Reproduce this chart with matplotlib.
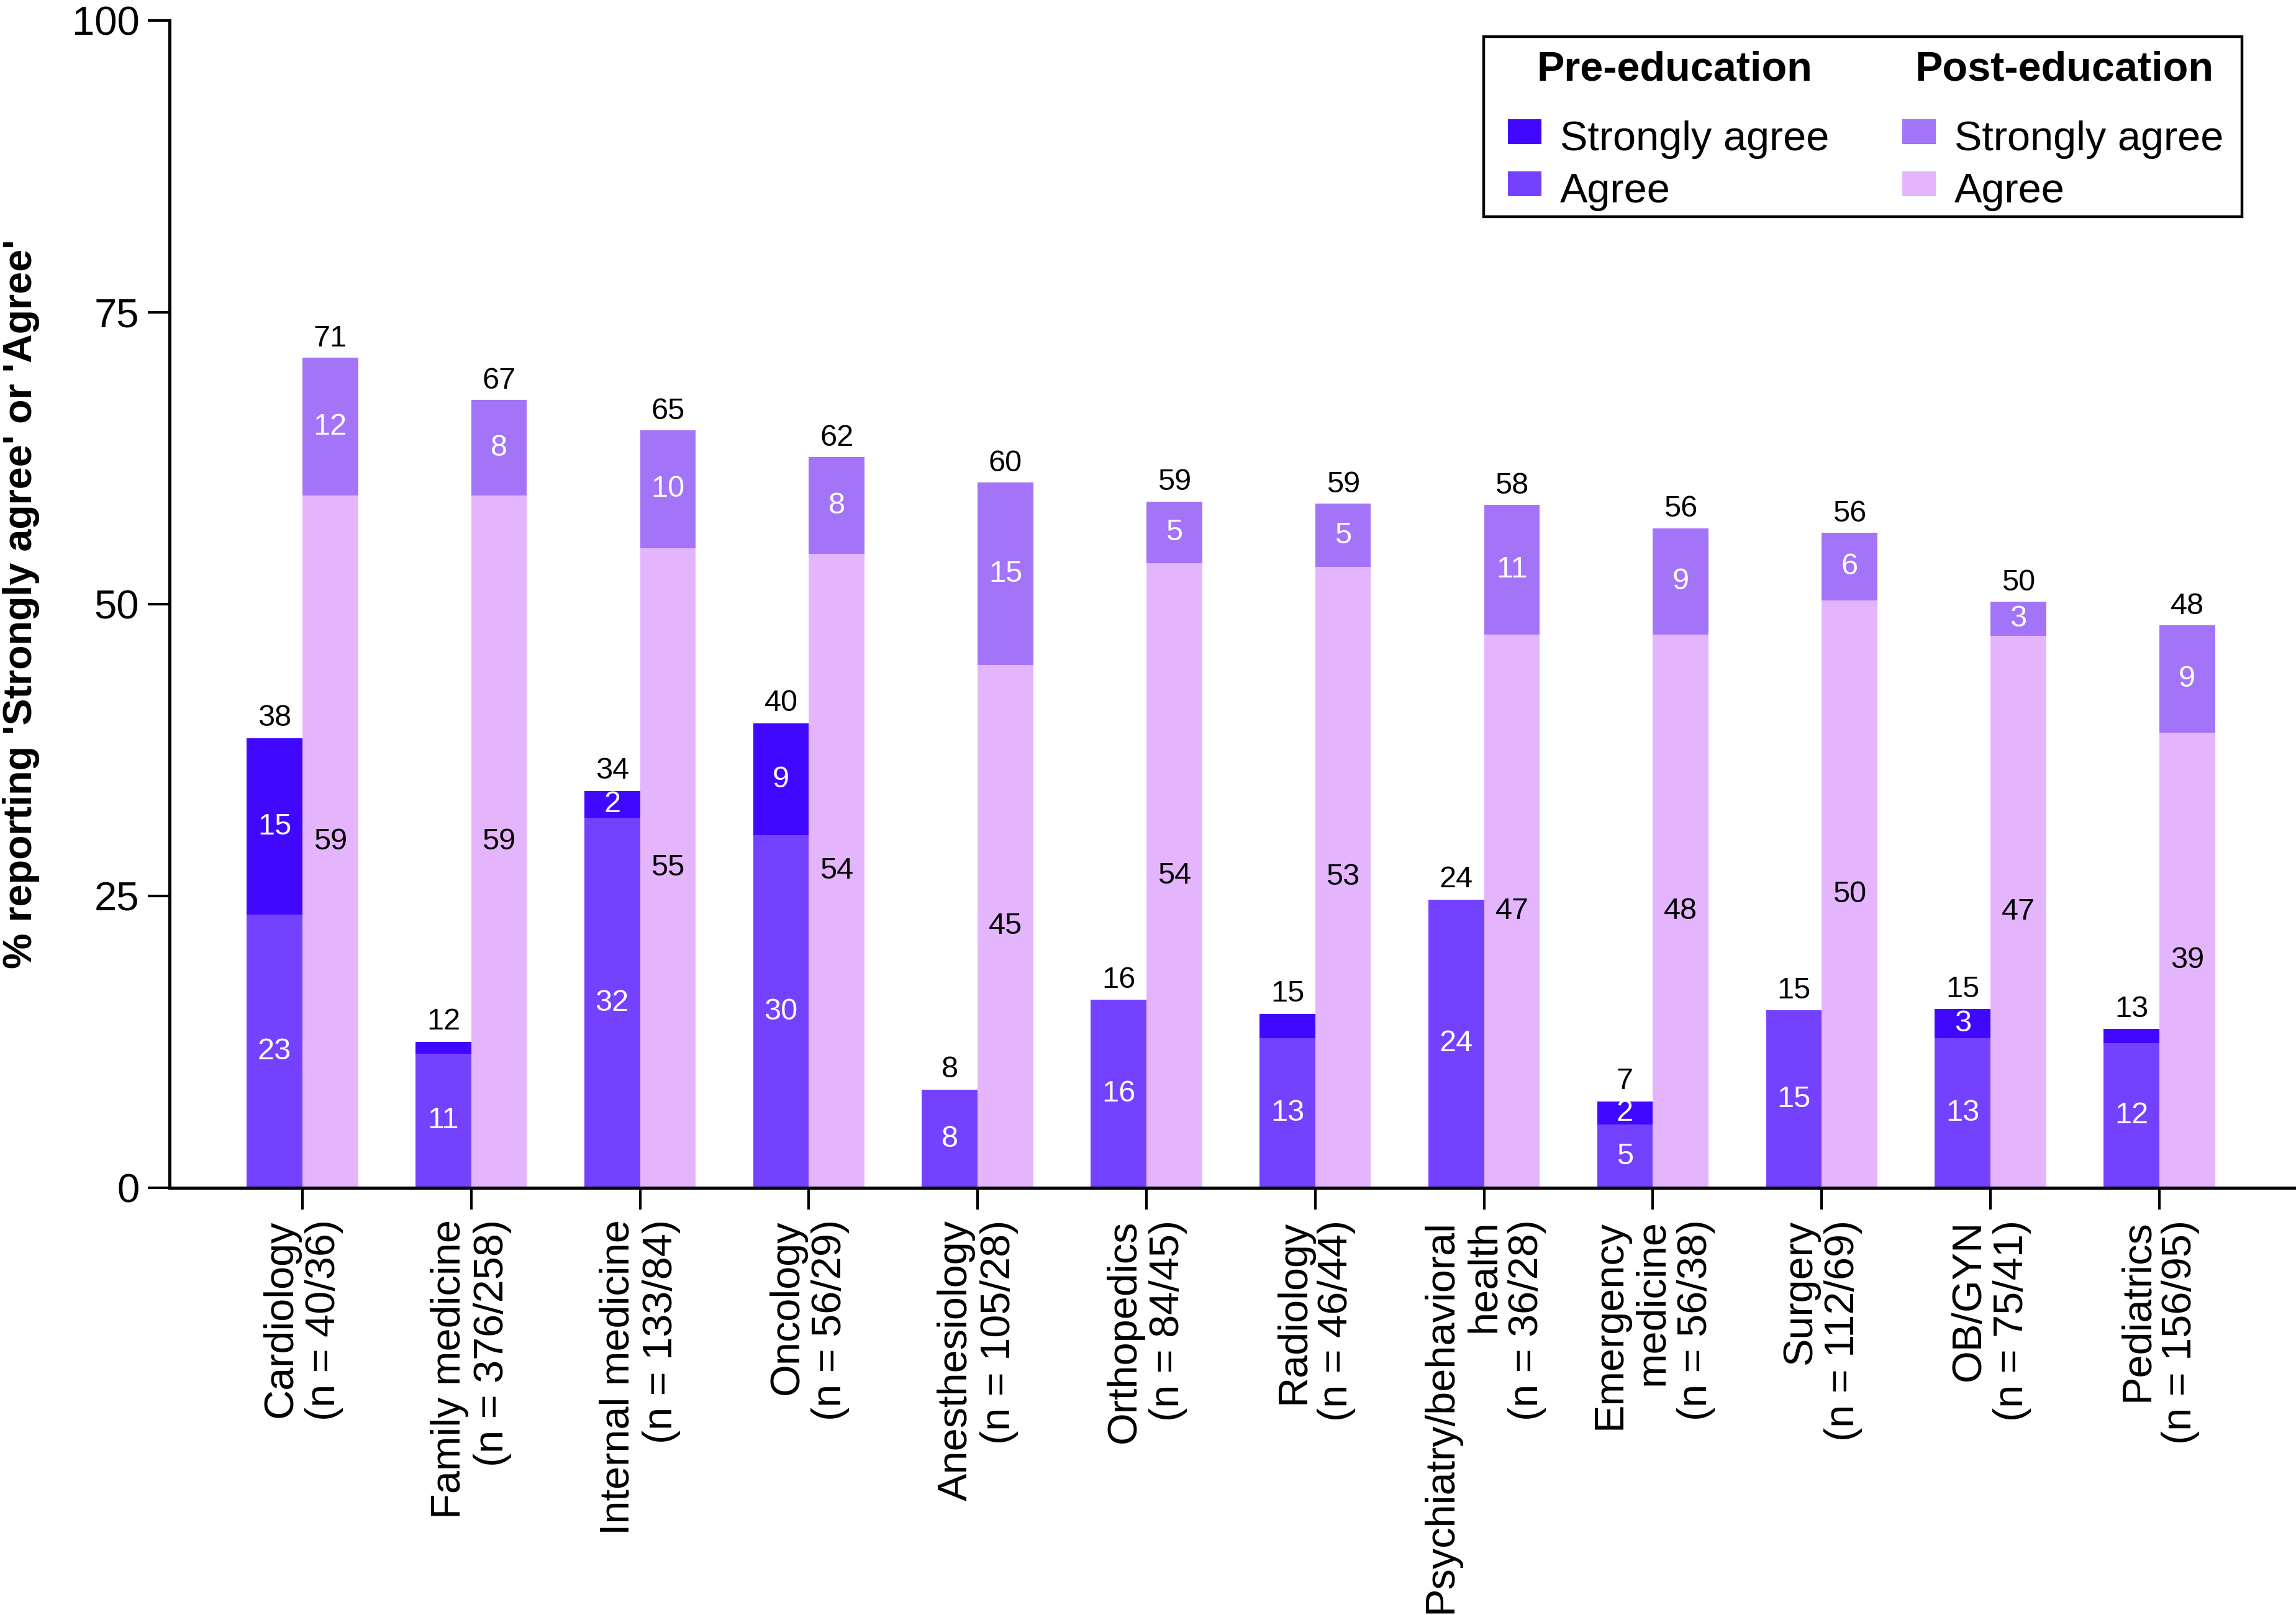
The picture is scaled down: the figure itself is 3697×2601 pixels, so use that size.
import matplotlib
matplotlib.use("Agg")
import matplotlib.pyplot as plt
from matplotlib.patches import Rectangle
import numpy as np

plt.rcParams['font.family'] = ['Liberation Sans', 'DejaVu Sans']

categories = [
    "Cardiology\n(n = 40/36)",
    "Family medicine\n(n = 376/258)",
    "Internal medicine\n(n = 133/84)",
    "Oncology\n(n = 56/29)",
    "Anesthesiology\n(n = 105/28)",
    "Orthopedics\n(n = 84/45)",
    "Radiology\n(n = 46/44)",
    "Psychiatry/behavioral\nhealth\n(n = 36/28)",
    "Emergency\nmedicine\n(n = 56/38)",
    "Surgery\n(n = 112/69)",
    "OB/GYN\n(n = 75/41)",
    "Pediatrics\n(n = 156/95)",
]

# segment heights (%)
pre_agree = [23.4, 11.5, 31.7, 30.2, 8.4, 16.1, 12.8, 24.7, 5.4, 15.2, 12.8, 12.4]
pre_strong = [15.1, 1.0, 2.3, 9.6, 0.0, 0.0, 2.1, 0.0, 2.0, 0.0, 2.5, 1.2]
post_agree = [59.3, 59.3, 54.8, 54.3, 44.8, 53.5, 53.2, 47.4, 47.4, 50.3, 47.3, 39.0]
post_strong = [11.8, 8.2, 10.1, 8.3, 15.6, 5.3, 5.4, 11.1, 9.1, 5.8, 2.9, 9.2]

# printed labels
pre_agree_lbl = ["23", "11", "32", "30", "8", "16", "13", "24", "5", "15", "13", "12"]
pre_strong_lbl = ["15", "", "2", "9", "", "", "", "", "2", "", "3", ""]
post_agree_lbl = ["59", "59", "55", "54", "45", "54", "53", "47", "48", "50", "47", "39"]
post_strong_lbl = ["12", "8", "10", "8", "15", "5", "5", "11", "9", "6", "3", "9"]
pre_total_lbl = ["38", "12", "34", "40", "8", "16", "15", "24", "7", "15", "15", "13"]
post_total_lbl = ["71", "67", "65", "62", "60", "59", "59", "58", "56", "56", "50", "48"]

c_pre_sa = '#4008FF'
c_pre_a = '#7441FF'
c_post_sa = '#A374F8'
c_post_a = '#E4B5FD'

W, H = 3697, 2601
fig = plt.figure(figsize=(W / 100, H / 100), dpi=100)
ax = fig.add_axes([273 / W, 1 - 1913 / H, 1 - 273 / W, (1913 - 33) / H])

x = np.arange(len(categories))
bw = 0.33

pa = np.array(pre_agree)
ps = np.array(pre_strong)
qa = np.array(post_agree)
qs = np.array(post_strong)

ax.bar(x - bw, pa, width=bw, align='edge', color=c_pre_a, edgecolor='none')
ax.bar(x - bw, ps, width=bw, bottom=pa, align='edge', color=c_pre_sa, edgecolor='none')
ax.bar(x, qa, width=bw, align='edge', color=c_post_a, edgecolor='none')
ax.bar(x, qs, width=bw, bottom=qa, align='edge', color=c_post_sa, edgecolor='none')

fs_bar = 35
for i in range(len(x)):
    xc_pre = x[i] - bw / 2
    xc_post = x[i] + bw / 2
    if pre_agree_lbl[i]:
        ax.text(xc_pre, pa[i] / 2, pre_agree_lbl[i], ha='center', va='center',
                color='white', fontsize=fs_bar)
    if pre_strong_lbl[i]:
        ax.text(xc_pre, pa[i] + ps[i] / 2, pre_strong_lbl[i], ha='center', va='center',
                color='white', fontsize=fs_bar)
    ax.text(xc_post, qa[i] / 2, post_agree_lbl[i], ha='center', va='center',
            color='black', fontsize=fs_bar)
    ax.text(xc_post, qa[i] + qs[i] / 2, post_strong_lbl[i], ha='center', va='center',
            color='white', fontsize=fs_bar)
    ax.annotate(pre_total_lbl[i], (xc_pre, pa[i] + ps[i]), xytext=(0, 7),
                textcoords='offset points', ha='center', va='bottom', fontsize=fs_bar)
    ax.annotate(post_total_lbl[i], (xc_post, qa[i] + qs[i]), xytext=(0, 6),
                textcoords='offset points', ha='center', va='bottom', fontsize=fs_bar)

ax.set_xlim(-0.787, 11.81)
ax.set_ylim(0, 100)
ax.set_yticks([0, 25, 50, 75, 100])
ax.set_xticks(x)
ax.set_xticklabels(categories, rotation=90, ha='center', va='top',
                   multialignment='right', fontsize=48, linespacing=1.15)
ax.tick_params(axis='y', labelsize=47, length=25, width=3, pad=10)
ax.tick_params(axis='x', length=25, width=3, pad=12)
for s in ['top', 'right']:
    ax.spines[s].set_visible(False)
for s in ['left', 'bottom']:
    ax.spines[s].set_linewidth(3.6)

ax.set_ylabel("% reporting 'Strongly agree' or 'Agree'", fontsize=46.5,
              fontweight='bold')
ax.yaxis.set_label_coords((64 - 273) / (W - 273), 0.5)

# legend box
def fx(px):
    return px / W

def fy(py):
    return 1 - py / H

fig.patches.append(Rectangle((fx(2389), fy(349)), fx(3610) - fx(2389), (349 - 59) / H,
                             transform=fig.transFigure, fill=False,
                             edgecolor='black', linewidth=3.2))
fig.text(fx(2696), fy(130), "Pre-education", ha='center', va='baseline',
         fontsize=48, fontweight='bold')
fig.text(fx(3324), fy(130), "Post-education", ha='center', va='baseline',
         fontsize=48, fontweight='bold')
entries = [
    (2428, 192, c_pre_sa, "Strongly agree"),
    (2428, 276, c_pre_a, "Agree"),
    (3063, 192, c_post_sa, "Strongly agree"),
    (3063, 276, c_post_a, "Agree"),
]
for px, py, col, lab in entries:
    fig.patches.append(Rectangle((fx(px), fy(py + 40)), 54 / W, 40 / H,
                                 transform=fig.transFigure, facecolor=col,
                                 edgecolor='none'))
    fig.text(fx(px + 84), fy(py + 50), lab, ha='left', va='baseline', fontsize=48)

fig.savefig("out.png", dpi=100)
